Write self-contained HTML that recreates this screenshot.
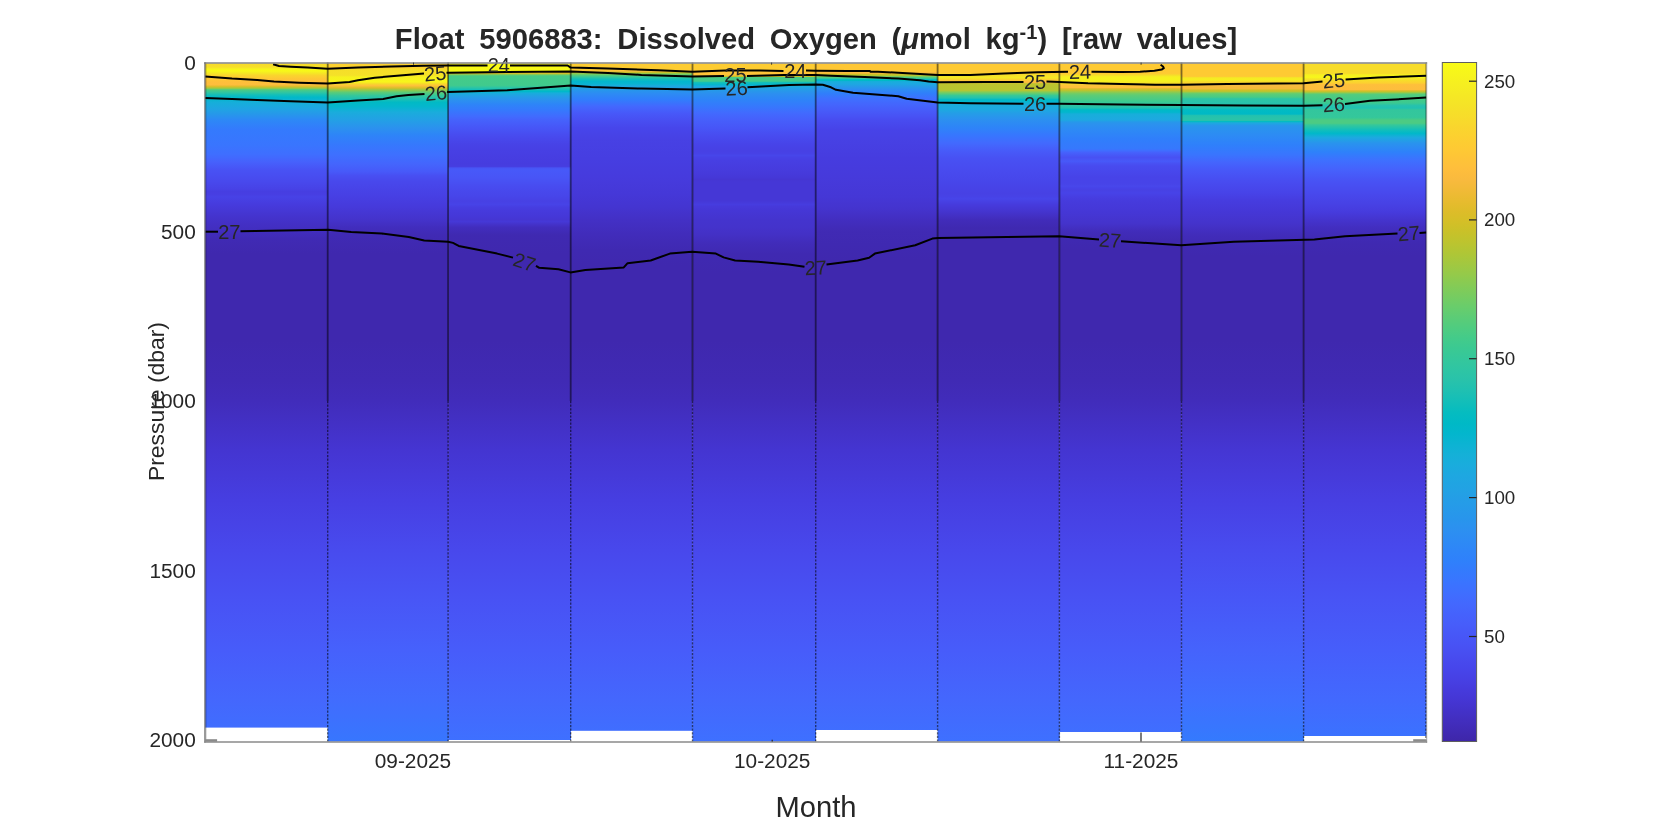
<!DOCTYPE html>
<html><head><meta charset="utf-8"><title>Float 5906883</title>
<style>html,body{margin:0;padding:0;background:#fff;width:1667px;height:834px;overflow:hidden;font-family:"Liberation Sans",sans-serif}</style></head>
<body>
<div style="position:absolute;left:0;top:0;width:1667px;height:834px;will-change:transform">
<svg width="1667" height="834" viewBox="0 0 1667 834" style="position:absolute;left:0;top:0;display:block" font-family="Liberation Sans, sans-serif">
<defs>
<linearGradient id="g0" gradientUnits="userSpaceOnUse" x1="0" y1="62.5" x2="0" y2="741.5">
<stop offset="0.00000" stop-color="#f7da2b"/>
<stop offset="0.00663" stop-color="#f6de29"/>
<stop offset="0.00884" stop-color="#f5ee21"/>
<stop offset="0.01105" stop-color="#f8f917"/>
<stop offset="0.01325" stop-color="#f7f41c"/>
<stop offset="0.01546" stop-color="#f5e924"/>
<stop offset="0.01885" stop-color="#fad52d"/>
<stop offset="0.02386" stop-color="#fec735"/>
<stop offset="0.02872" stop-color="#febf3b"/>
<stop offset="0.03284" stop-color="#fdbd3d"/>
<stop offset="0.03579" stop-color="#d6be27"/>
<stop offset="0.03829" stop-color="#93ca4b"/>
<stop offset="0.04021" stop-color="#4ccb83"/>
<stop offset="0.04389" stop-color="#32c69f"/>
<stop offset="0.04757" stop-color="#14bfb8"/>
<stop offset="0.05125" stop-color="#01b8c9"/>
<stop offset="0.05862" stop-color="#15afd9"/>
<stop offset="0.06863" stop-color="#20a4e3"/>
<stop offset="0.07599" stop-color="#2698ea"/>
<stop offset="0.08468" stop-color="#2d88f6"/>
<stop offset="0.09882" stop-color="#347afd"/>
<stop offset="0.12150" stop-color="#3975fe"/>
<stop offset="0.13549" stop-color="#3f6eff"/>
<stop offset="0.14654" stop-color="#4661fc"/>
<stop offset="0.15832" stop-color="#4852f4"/>
<stop offset="0.17511" stop-color="#4849ed"/>
<stop offset="0.18630" stop-color="#4742e6"/>
<stop offset="0.18999" stop-color="#463ee1"/>
<stop offset="0.19367" stop-color="#473ee2"/>
<stop offset="0.19779" stop-color="#4742e6"/>
<stop offset="0.20913" stop-color="#463bdd"/>
<stop offset="0.22607" stop-color="#4434ce"/>
<stop offset="0.23726" stop-color="#4330c5"/>
<stop offset="0.24963" stop-color="#412dbd"/>
<stop offset="0.25994" stop-color="#402ab4"/>
<stop offset="0.28203" stop-color="#3f28ae"/>
<stop offset="0.34978" stop-color="#3f28ae"/>
<stop offset="0.40869" stop-color="#3f28ae"/>
<stop offset="0.46760" stop-color="#402ab4"/>
<stop offset="0.49705" stop-color="#412cba"/>
<stop offset="0.57069" stop-color="#4435d1"/>
<stop offset="0.64433" stop-color="#463ee1"/>
<stop offset="0.71797" stop-color="#4848ec"/>
<stop offset="0.79161" stop-color="#4852f4"/>
<stop offset="0.86524" stop-color="#475cfa"/>
<stop offset="0.93888" stop-color="#4467fd"/>
<stop offset="1.00000" stop-color="#3e70ff"/>
</linearGradient>
<linearGradient id="g1" gradientUnits="userSpaceOnUse" x1="0" y1="62.5" x2="0" y2="741.5">
<stop offset="0.00000" stop-color="#fcd130"/>
<stop offset="0.00810" stop-color="#fcd130"/>
<stop offset="0.01031" stop-color="#f6de29"/>
<stop offset="0.01885" stop-color="#f5e128"/>
<stop offset="0.02135" stop-color="#f6f11f"/>
<stop offset="0.02872" stop-color="#f7f61b"/>
<stop offset="0.03122" stop-color="#f7da2b"/>
<stop offset="0.03402" stop-color="#fec13a"/>
<stop offset="0.03770" stop-color="#d6be27"/>
<stop offset="0.04021" stop-color="#9ac945"/>
<stop offset="0.04389" stop-color="#5ccc76"/>
<stop offset="0.04875" stop-color="#34c79b"/>
<stop offset="0.05376" stop-color="#1ec0b2"/>
<stop offset="0.05862" stop-color="#01bac4"/>
<stop offset="0.06495" stop-color="#05b6ce"/>
<stop offset="0.07349" stop-color="#1aacdc"/>
<stop offset="0.08468" stop-color="#23a0e5"/>
<stop offset="0.09602" stop-color="#2b92ee"/>
<stop offset="0.10736" stop-color="#2e84f8"/>
<stop offset="0.12150" stop-color="#3678fd"/>
<stop offset="0.13549" stop-color="#3e70ff"/>
<stop offset="0.14948" stop-color="#4465fd"/>
<stop offset="0.16097" stop-color="#4759f9"/>
<stop offset="0.16672" stop-color="#484ff2"/>
<stop offset="0.17511" stop-color="#4848ec"/>
<stop offset="0.19779" stop-color="#473fe3"/>
<stop offset="0.21193" stop-color="#463adb"/>
<stop offset="0.23166" stop-color="#4433cb"/>
<stop offset="0.24300" stop-color="#412dbd"/>
<stop offset="0.25405" stop-color="#402ab4"/>
<stop offset="0.28203" stop-color="#3f28ae"/>
<stop offset="0.34978" stop-color="#3f28ae"/>
<stop offset="0.40869" stop-color="#3f28ae"/>
<stop offset="0.46760" stop-color="#402ab4"/>
<stop offset="0.49705" stop-color="#412cba"/>
<stop offset="0.57069" stop-color="#4535d2"/>
<stop offset="0.64433" stop-color="#473fe3"/>
<stop offset="0.71797" stop-color="#484bee"/>
<stop offset="0.79161" stop-color="#4856f6"/>
<stop offset="0.86524" stop-color="#4661fc"/>
<stop offset="0.93888" stop-color="#416cfe"/>
<stop offset="1.00000" stop-color="#3776fe"/>
</linearGradient>
<linearGradient id="g2" gradientUnits="userSpaceOnUse" x1="0" y1="62.5" x2="0" y2="741.5">
<stop offset="0.00000" stop-color="#f8f917"/>
<stop offset="0.01325" stop-color="#f8f917"/>
<stop offset="0.01517" stop-color="#fcd130"/>
<stop offset="0.01635" stop-color="#c7c129"/>
<stop offset="0.01841" stop-color="#66cd6d"/>
<stop offset="0.02018" stop-color="#45cb88"/>
<stop offset="0.03373" stop-color="#40ca8d"/>
<stop offset="0.03623" stop-color="#32c69f"/>
<stop offset="0.03991" stop-color="#14bfb8"/>
<stop offset="0.04271" stop-color="#01b8c9"/>
<stop offset="0.04492" stop-color="#17aeda"/>
<stop offset="0.04978" stop-color="#249ee6"/>
<stop offset="0.05479" stop-color="#2b92ee"/>
<stop offset="0.06215" stop-color="#2e84f8"/>
<stop offset="0.07084" stop-color="#3678fd"/>
<stop offset="0.07953" stop-color="#416bfe"/>
<stop offset="0.08468" stop-color="#4562fc"/>
<stop offset="0.09602" stop-color="#4756f7"/>
<stop offset="0.11016" stop-color="#4849ed"/>
<stop offset="0.12150" stop-color="#4742e6"/>
<stop offset="0.13270" stop-color="#473fe3"/>
<stop offset="0.14948" stop-color="#463cdf"/>
<stop offset="0.15317" stop-color="#463ee1"/>
<stop offset="0.15538" stop-color="#4854f5"/>
<stop offset="0.15832" stop-color="#4759f9"/>
<stop offset="0.16951" stop-color="#4855f6"/>
<stop offset="0.18336" stop-color="#484bef"/>
<stop offset="0.19779" stop-color="#4745e9"/>
<stop offset="0.20398" stop-color="#4741e4"/>
<stop offset="0.20913" stop-color="#4743e7"/>
<stop offset="0.21281" stop-color="#463ee1"/>
<stop offset="0.21723" stop-color="#463bdd"/>
<stop offset="0.22607" stop-color="#4538d8"/>
<stop offset="0.23122" stop-color="#4536d3"/>
<stop offset="0.23446" stop-color="#4538d7"/>
<stop offset="0.23785" stop-color="#4433cb"/>
<stop offset="0.24300" stop-color="#412dbd"/>
<stop offset="0.25405" stop-color="#3f29b1"/>
<stop offset="0.28203" stop-color="#3f28ae"/>
<stop offset="0.34978" stop-color="#3f28ae"/>
<stop offset="0.40869" stop-color="#3f28ae"/>
<stop offset="0.46760" stop-color="#402ab4"/>
<stop offset="0.49705" stop-color="#412cba"/>
<stop offset="0.57069" stop-color="#4435d1"/>
<stop offset="0.64433" stop-color="#463ee1"/>
<stop offset="0.71797" stop-color="#4848ec"/>
<stop offset="0.79161" stop-color="#4852f4"/>
<stop offset="0.86524" stop-color="#475cfa"/>
<stop offset="0.93888" stop-color="#4467fd"/>
<stop offset="1.00000" stop-color="#3e70ff"/>
</linearGradient>
<linearGradient id="g3" gradientUnits="userSpaceOnUse" x1="0" y1="62.5" x2="0" y2="741.5">
<stop offset="0.00000" stop-color="#fdcc32"/>
<stop offset="0.01105" stop-color="#fdcc32"/>
<stop offset="0.01252" stop-color="#fabb3e"/>
<stop offset="0.01473" stop-color="#c7c129"/>
<stop offset="0.01620" stop-color="#93ca4b"/>
<stop offset="0.01841" stop-color="#5ccc76"/>
<stop offset="0.02135" stop-color="#34c79b"/>
<stop offset="0.02430" stop-color="#14bfb8"/>
<stop offset="0.02798" stop-color="#03b6cd"/>
<stop offset="0.03166" stop-color="#0ab4d1"/>
<stop offset="0.03461" stop-color="#1caadf"/>
<stop offset="0.03991" stop-color="#2698ea"/>
<stop offset="0.04610" stop-color="#2d8bf4"/>
<stop offset="0.05479" stop-color="#317dfc"/>
<stop offset="0.06465" stop-color="#4368fe"/>
<stop offset="0.07437" stop-color="#4759f9"/>
<stop offset="0.08468" stop-color="#484ff2"/>
<stop offset="0.09602" stop-color="#4746eb"/>
<stop offset="0.11267" stop-color="#4741e4"/>
<stop offset="0.14124" stop-color="#463ee1"/>
<stop offset="0.16951" stop-color="#463bdd"/>
<stop offset="0.19219" stop-color="#4538d8"/>
<stop offset="0.21193" stop-color="#4435d1"/>
<stop offset="0.23166" stop-color="#4330c5"/>
<stop offset="0.25405" stop-color="#412cba"/>
<stop offset="0.27688" stop-color="#3f29b1"/>
<stop offset="0.29971" stop-color="#3f28ae"/>
<stop offset="0.34978" stop-color="#3f28ae"/>
<stop offset="0.40869" stop-color="#3f28ae"/>
<stop offset="0.46760" stop-color="#402ab4"/>
<stop offset="0.49705" stop-color="#412cba"/>
<stop offset="0.57069" stop-color="#4435d1"/>
<stop offset="0.64433" stop-color="#463ee1"/>
<stop offset="0.71797" stop-color="#4848ec"/>
<stop offset="0.79161" stop-color="#4852f4"/>
<stop offset="0.86524" stop-color="#475cfa"/>
<stop offset="0.93888" stop-color="#4467fd"/>
<stop offset="1.00000" stop-color="#3e70ff"/>
</linearGradient>
<linearGradient id="g4" gradientUnits="userSpaceOnUse" x1="0" y1="62.5" x2="0" y2="741.5">
<stop offset="0.00000" stop-color="#fdcc32"/>
<stop offset="0.01178" stop-color="#fdcc32"/>
<stop offset="0.01399" stop-color="#fec438"/>
<stop offset="0.01841" stop-color="#fec239"/>
<stop offset="0.02062" stop-color="#c7c129"/>
<stop offset="0.02180" stop-color="#4ccb83"/>
<stop offset="0.02754" stop-color="#40ca8d"/>
<stop offset="0.02946" stop-color="#14bfb8"/>
<stop offset="0.03255" stop-color="#05b6ce"/>
<stop offset="0.03535" stop-color="#1caadf"/>
<stop offset="0.03756" stop-color="#20a4e3"/>
<stop offset="0.03991" stop-color="#259ce7"/>
<stop offset="0.04610" stop-color="#2c8ff0"/>
<stop offset="0.05479" stop-color="#2e84f8"/>
<stop offset="0.06465" stop-color="#3678fd"/>
<stop offset="0.07452" stop-color="#426afe"/>
<stop offset="0.08468" stop-color="#465ffb"/>
<stop offset="0.09602" stop-color="#4756f7"/>
<stop offset="0.10736" stop-color="#484cf0"/>
<stop offset="0.12150" stop-color="#4743e8"/>
<stop offset="0.12990" stop-color="#4741e4"/>
<stop offset="0.13402" stop-color="#4742e6"/>
<stop offset="0.13697" stop-color="#4746ea"/>
<stop offset="0.13991" stop-color="#4742e6"/>
<stop offset="0.14404" stop-color="#473fe3"/>
<stop offset="0.16377" stop-color="#463adb"/>
<stop offset="0.16937" stop-color="#4538d7"/>
<stop offset="0.17231" stop-color="#4536d3"/>
<stop offset="0.17599" stop-color="#4537d6"/>
<stop offset="0.18336" stop-color="#4537d6"/>
<stop offset="0.20339" stop-color="#4537d6"/>
<stop offset="0.20692" stop-color="#463adb"/>
<stop offset="0.20913" stop-color="#463cdf"/>
<stop offset="0.21208" stop-color="#4639da"/>
<stop offset="0.21723" stop-color="#4537d6"/>
<stop offset="0.23166" stop-color="#4434ce"/>
<stop offset="0.24300" stop-color="#4433cb"/>
<stop offset="0.25405" stop-color="#4330c5"/>
<stop offset="0.26554" stop-color="#412cba"/>
<stop offset="0.28262" stop-color="#3f29b1"/>
<stop offset="0.31090" stop-color="#3f28ae"/>
<stop offset="0.34978" stop-color="#3f28ae"/>
<stop offset="0.40869" stop-color="#3f28ae"/>
<stop offset="0.46760" stop-color="#402ab4"/>
<stop offset="0.49705" stop-color="#412cba"/>
<stop offset="0.57069" stop-color="#4435d1"/>
<stop offset="0.64433" stop-color="#463ee1"/>
<stop offset="0.71797" stop-color="#4848ec"/>
<stop offset="0.79161" stop-color="#4852f4"/>
<stop offset="0.86524" stop-color="#475cfa"/>
<stop offset="0.93888" stop-color="#4467fd"/>
<stop offset="1.00000" stop-color="#3e70ff"/>
</linearGradient>
<linearGradient id="g5" gradientUnits="userSpaceOnUse" x1="0" y1="62.5" x2="0" y2="741.5">
<stop offset="0.00000" stop-color="#fec735"/>
<stop offset="0.01325" stop-color="#fec735"/>
<stop offset="0.01473" stop-color="#fabb3e"/>
<stop offset="0.01679" stop-color="#e9bb2f"/>
<stop offset="0.01753" stop-color="#c7c129"/>
<stop offset="0.01959" stop-color="#b0c636"/>
<stop offset="0.02032" stop-color="#80cc59"/>
<stop offset="0.02180" stop-color="#5ccc76"/>
<stop offset="0.02253" stop-color="#39c994"/>
<stop offset="0.02386" stop-color="#30c5a1"/>
<stop offset="0.02459" stop-color="#0abdbd"/>
<stop offset="0.02666" stop-color="#00b9c8"/>
<stop offset="0.02813" stop-color="#18addb"/>
<stop offset="0.03166" stop-color="#1da8e1"/>
<stop offset="0.03520" stop-color="#259be8"/>
<stop offset="0.04021" stop-color="#2d8bf4"/>
<stop offset="0.04580" stop-color="#307efb"/>
<stop offset="0.05287" stop-color="#3e70ff"/>
<stop offset="0.06215" stop-color="#4465fd"/>
<stop offset="0.07084" stop-color="#475bf9"/>
<stop offset="0.07953" stop-color="#4852f4"/>
<stop offset="0.08468" stop-color="#484cf0"/>
<stop offset="0.09882" stop-color="#4743e8"/>
<stop offset="0.11267" stop-color="#4741e4"/>
<stop offset="0.14124" stop-color="#463cdf"/>
<stop offset="0.16951" stop-color="#463adb"/>
<stop offset="0.19779" stop-color="#4537d6"/>
<stop offset="0.21473" stop-color="#4434ce"/>
<stop offset="0.23166" stop-color="#422ec0"/>
<stop offset="0.24860" stop-color="#402ab4"/>
<stop offset="0.26848" stop-color="#3f29b1"/>
<stop offset="0.29087" stop-color="#3f28ae"/>
<stop offset="0.34978" stop-color="#3f28ae"/>
<stop offset="0.40869" stop-color="#3f28ae"/>
<stop offset="0.46760" stop-color="#402ab4"/>
<stop offset="0.49705" stop-color="#412cba"/>
<stop offset="0.57069" stop-color="#4435d1"/>
<stop offset="0.64433" stop-color="#463ee1"/>
<stop offset="0.71797" stop-color="#4848ec"/>
<stop offset="0.79161" stop-color="#4852f4"/>
<stop offset="0.86524" stop-color="#475cfa"/>
<stop offset="0.93888" stop-color="#4467fd"/>
<stop offset="1.00000" stop-color="#3e70ff"/>
</linearGradient>
<linearGradient id="g6" gradientUnits="userSpaceOnUse" x1="0" y1="62.5" x2="0" y2="741.5">
<stop offset="0.00000" stop-color="#feca33"/>
<stop offset="0.01517" stop-color="#feca33"/>
<stop offset="0.01841" stop-color="#f6de29"/>
<stop offset="0.02253" stop-color="#f5e924"/>
<stop offset="0.02430" stop-color="#f8d92c"/>
<stop offset="0.02695" stop-color="#fec438"/>
<stop offset="0.02946" stop-color="#fabb3e"/>
<stop offset="0.03122" stop-color="#bdc32e"/>
<stop offset="0.04109" stop-color="#b7c532"/>
<stop offset="0.04359" stop-color="#84cc56"/>
<stop offset="0.04610" stop-color="#5ccc76"/>
<stop offset="0.04860" stop-color="#37c897"/>
<stop offset="0.05228" stop-color="#23c1af"/>
<stop offset="0.05449" stop-color="#01bac4"/>
<stop offset="0.05670" stop-color="#02b7cb"/>
<stop offset="0.06215" stop-color="#1aacdc"/>
<stop offset="0.06966" stop-color="#1da8e1"/>
<stop offset="0.07452" stop-color="#249ee6"/>
<stop offset="0.08203" stop-color="#2a93ee"/>
<stop offset="0.08468" stop-color="#2c8ff0"/>
<stop offset="0.09602" stop-color="#2e84f8"/>
<stop offset="0.10736" stop-color="#3776fe"/>
<stop offset="0.11856" stop-color="#426afe"/>
<stop offset="0.12990" stop-color="#475bf9"/>
<stop offset="0.14124" stop-color="#4851f3"/>
<stop offset="0.15832" stop-color="#484bef"/>
<stop offset="0.17791" stop-color="#4745e9"/>
<stop offset="0.19219" stop-color="#4741e4"/>
<stop offset="0.19735" stop-color="#4742e6"/>
<stop offset="0.20059" stop-color="#4745e9"/>
<stop offset="0.20398" stop-color="#4741e4"/>
<stop offset="0.20913" stop-color="#463bdd"/>
<stop offset="0.22018" stop-color="#4434ce"/>
<stop offset="0.23166" stop-color="#412cba"/>
<stop offset="0.24300" stop-color="#3f29b1"/>
<stop offset="0.26141" stop-color="#3f28ae"/>
<stop offset="0.34978" stop-color="#3f28ae"/>
<stop offset="0.40869" stop-color="#3f28ae"/>
<stop offset="0.46760" stop-color="#402ab4"/>
<stop offset="0.49705" stop-color="#412cba"/>
<stop offset="0.57069" stop-color="#4435d1"/>
<stop offset="0.64433" stop-color="#463ee1"/>
<stop offset="0.71797" stop-color="#4848ec"/>
<stop offset="0.79161" stop-color="#4852f4"/>
<stop offset="0.86524" stop-color="#475cfa"/>
<stop offset="0.93888" stop-color="#4467fd"/>
<stop offset="1.00000" stop-color="#3e70ff"/>
</linearGradient>
<linearGradient id="g7" gradientUnits="userSpaceOnUse" x1="0" y1="62.5" x2="0" y2="741.5">
<stop offset="0.00000" stop-color="#feca33"/>
<stop offset="0.01605" stop-color="#feca33"/>
<stop offset="0.01841" stop-color="#f7da2b"/>
<stop offset="0.02032" stop-color="#f5eb23"/>
<stop offset="0.02283" stop-color="#f6f21d"/>
<stop offset="0.02754" stop-color="#f6f11f"/>
<stop offset="0.02946" stop-color="#f5e626"/>
<stop offset="0.03137" stop-color="#f9d72c"/>
<stop offset="0.03373" stop-color="#fec438"/>
<stop offset="0.03682" stop-color="#febf3b"/>
<stop offset="0.03873" stop-color="#dcbd29"/>
<stop offset="0.04109" stop-color="#bdc32e"/>
<stop offset="0.04345" stop-color="#93ca4b"/>
<stop offset="0.04610" stop-color="#6dcd67"/>
<stop offset="0.04860" stop-color="#5ccc76"/>
<stop offset="0.05729" stop-color="#3dca90"/>
<stop offset="0.06348" stop-color="#2dc4a5"/>
<stop offset="0.06701" stop-color="#1ec0b2"/>
<stop offset="0.06966" stop-color="#00b9c6"/>
<stop offset="0.07334" stop-color="#03b6cd"/>
<stop offset="0.07585" stop-color="#17aeda"/>
<stop offset="0.08203" stop-color="#1caadf"/>
<stop offset="0.08468" stop-color="#1da8e1"/>
<stop offset="0.08763" stop-color="#2698ea"/>
<stop offset="0.09057" stop-color="#2b92ee"/>
<stop offset="0.09882" stop-color="#2d8af5"/>
<stop offset="0.11296" stop-color="#307efb"/>
<stop offset="0.12710" stop-color="#3678fd"/>
<stop offset="0.12960" stop-color="#3f6eff"/>
<stop offset="0.13270" stop-color="#4661fc"/>
<stop offset="0.13976" stop-color="#4851f3"/>
<stop offset="0.14286" stop-color="#4855f6"/>
<stop offset="0.14551" stop-color="#4759f9"/>
<stop offset="0.14875" stop-color="#4851f3"/>
<stop offset="0.15243" stop-color="#484bef"/>
<stop offset="0.16951" stop-color="#4743e8"/>
<stop offset="0.17894" stop-color="#4744e8"/>
<stop offset="0.18218" stop-color="#4847eb"/>
<stop offset="0.18483" stop-color="#4743e8"/>
<stop offset="0.18778" stop-color="#4741e4"/>
<stop offset="0.19219" stop-color="#4743e8"/>
<stop offset="0.19661" stop-color="#473fe3"/>
<stop offset="0.20339" stop-color="#463bdd"/>
<stop offset="0.22018" stop-color="#4537d6"/>
<stop offset="0.23726" stop-color="#4433cb"/>
<stop offset="0.24860" stop-color="#412cba"/>
<stop offset="0.26141" stop-color="#3f29b1"/>
<stop offset="0.27614" stop-color="#3f28ae"/>
<stop offset="0.34978" stop-color="#3f28ae"/>
<stop offset="0.40869" stop-color="#3f28ae"/>
<stop offset="0.46760" stop-color="#402ab4"/>
<stop offset="0.49705" stop-color="#412cba"/>
<stop offset="0.57069" stop-color="#4435d1"/>
<stop offset="0.64433" stop-color="#463ee1"/>
<stop offset="0.71797" stop-color="#4848ec"/>
<stop offset="0.79161" stop-color="#4852f4"/>
<stop offset="0.86524" stop-color="#475cfa"/>
<stop offset="0.93888" stop-color="#4467fd"/>
<stop offset="1.00000" stop-color="#3e70ff"/>
</linearGradient>
<linearGradient id="g8" gradientUnits="userSpaceOnUse" x1="0" y1="62.5" x2="0" y2="741.5">
<stop offset="0.00000" stop-color="#feca33"/>
<stop offset="0.02047" stop-color="#feca33"/>
<stop offset="0.02224" stop-color="#f5e427"/>
<stop offset="0.02430" stop-color="#f6ef20"/>
<stop offset="0.02607" stop-color="#f5eb23"/>
<stop offset="0.02798" stop-color="#f6de29"/>
<stop offset="0.03004" stop-color="#fad42e"/>
<stop offset="0.03373" stop-color="#f8ba3d"/>
<stop offset="0.03873" stop-color="#f2ba38"/>
<stop offset="0.04050" stop-color="#d0bf27"/>
<stop offset="0.04242" stop-color="#c1c32c"/>
<stop offset="0.04418" stop-color="#8ccb50"/>
<stop offset="0.04610" stop-color="#5fcd73"/>
<stop offset="0.05110" stop-color="#45cb88"/>
<stop offset="0.05346" stop-color="#2dc4a5"/>
<stop offset="0.05965" stop-color="#28c2ab"/>
<stop offset="0.06554" stop-color="#1ec0b2"/>
<stop offset="0.06966" stop-color="#02bbc3"/>
<stop offset="0.07585" stop-color="#00b9c6"/>
<stop offset="0.07820" stop-color="#23c1af"/>
<stop offset="0.08321" stop-color="#2ac3a9"/>
<stop offset="0.08542" stop-color="#26c2ad"/>
<stop offset="0.08689" stop-color="#04bbc1"/>
<stop offset="0.08895" stop-color="#1caadf"/>
<stop offset="0.09323" stop-color="#2896ec"/>
<stop offset="0.10736" stop-color="#2d8bf4"/>
<stop offset="0.12150" stop-color="#2f80fb"/>
<stop offset="0.13549" stop-color="#3975fe"/>
<stop offset="0.14683" stop-color="#4465fd"/>
<stop offset="0.15832" stop-color="#4758f8"/>
<stop offset="0.17511" stop-color="#484cf0"/>
<stop offset="0.19219" stop-color="#4743e8"/>
<stop offset="0.20339" stop-color="#463cdf"/>
<stop offset="0.22018" stop-color="#4537d6"/>
<stop offset="0.23726" stop-color="#4433cb"/>
<stop offset="0.25405" stop-color="#412cba"/>
<stop offset="0.27025" stop-color="#3f29b1"/>
<stop offset="0.28498" stop-color="#3f28ae"/>
<stop offset="0.34978" stop-color="#3f28ae"/>
<stop offset="0.40869" stop-color="#3f28ae"/>
<stop offset="0.46760" stop-color="#402ab4"/>
<stop offset="0.49705" stop-color="#412cba"/>
<stop offset="0.57069" stop-color="#4536d3"/>
<stop offset="0.64433" stop-color="#4740e4"/>
<stop offset="0.71797" stop-color="#484cef"/>
<stop offset="0.79161" stop-color="#4757f7"/>
<stop offset="0.86524" stop-color="#4563fc"/>
<stop offset="0.93888" stop-color="#3f6fff"/>
<stop offset="1.00000" stop-color="#347afd"/>
</linearGradient>
<linearGradient id="g9" gradientUnits="userSpaceOnUse" x1="0" y1="62.5" x2="0" y2="741.5">
<stop offset="0.00000" stop-color="#f7dc2a"/>
<stop offset="0.01605" stop-color="#f7dc2a"/>
<stop offset="0.01826" stop-color="#f6f11f"/>
<stop offset="0.02180" stop-color="#f7f61b"/>
<stop offset="0.02430" stop-color="#f5e327"/>
<stop offset="0.03004" stop-color="#fcd130"/>
<stop offset="0.03255" stop-color="#febf3b"/>
<stop offset="0.03991" stop-color="#fdbd3d"/>
<stop offset="0.04183" stop-color="#d6be27"/>
<stop offset="0.04359" stop-color="#b7c532"/>
<stop offset="0.04492" stop-color="#80cc59"/>
<stop offset="0.04728" stop-color="#52cc7e"/>
<stop offset="0.05376" stop-color="#45cb88"/>
<stop offset="0.05965" stop-color="#3bc992"/>
<stop offset="0.06348" stop-color="#26c2ad"/>
<stop offset="0.06701" stop-color="#21c1b1"/>
<stop offset="0.06966" stop-color="#33c69d"/>
<stop offset="0.08071" stop-color="#34c79b"/>
<stop offset="0.08321" stop-color="#40ca8d"/>
<stop offset="0.08468" stop-color="#4ccb83"/>
<stop offset="0.08940" stop-color="#4ccb83"/>
<stop offset="0.09175" stop-color="#36c899"/>
<stop offset="0.09882" stop-color="#14bfb8"/>
<stop offset="0.10442" stop-color="#01b8c9"/>
<stop offset="0.11016" stop-color="#1caadf"/>
<stop offset="0.11856" stop-color="#2994ed"/>
<stop offset="0.13270" stop-color="#2f80fb"/>
<stop offset="0.14404" stop-color="#3e70ff"/>
<stop offset="0.15832" stop-color="#4661fc"/>
<stop offset="0.17511" stop-color="#4852f4"/>
<stop offset="0.19219" stop-color="#4849ed"/>
<stop offset="0.20913" stop-color="#4741e4"/>
<stop offset="0.22018" stop-color="#463bdd"/>
<stop offset="0.23166" stop-color="#4434ce"/>
<stop offset="0.24300" stop-color="#422ec0"/>
<stop offset="0.25405" stop-color="#402bb7"/>
<stop offset="0.26583" stop-color="#3f29b1"/>
<stop offset="0.28498" stop-color="#3f28ae"/>
<stop offset="0.34978" stop-color="#3f28ae"/>
<stop offset="0.40869" stop-color="#3f28ae"/>
<stop offset="0.46760" stop-color="#402ab4"/>
<stop offset="0.49705" stop-color="#412cba"/>
<stop offset="0.57069" stop-color="#4535d2"/>
<stop offset="0.64433" stop-color="#473fe2"/>
<stop offset="0.71797" stop-color="#4849ed"/>
<stop offset="0.79161" stop-color="#4854f5"/>
<stop offset="0.86524" stop-color="#465efb"/>
<stop offset="0.93888" stop-color="#4269fe"/>
<stop offset="1.00000" stop-color="#3a73ff"/>
</linearGradient>
<linearGradient id="cb" gradientUnits="userSpaceOnUse" x1="0" y1="741.5" x2="0" y2="62.5">
<stop offset="0.00000" stop-color="#3e26a8"/>
<stop offset="0.01562" stop-color="#402ab4"/>
<stop offset="0.03125" stop-color="#422ebf"/>
<stop offset="0.04688" stop-color="#4332ca"/>
<stop offset="0.06250" stop-color="#4536d5"/>
<stop offset="0.07812" stop-color="#463bdd"/>
<stop offset="0.09375" stop-color="#4741e5"/>
<stop offset="0.10938" stop-color="#4746eb"/>
<stop offset="0.12500" stop-color="#484cef"/>
<stop offset="0.14062" stop-color="#4852f4"/>
<stop offset="0.15625" stop-color="#4757f7"/>
<stop offset="0.17188" stop-color="#475dfa"/>
<stop offset="0.18750" stop-color="#4562fc"/>
<stop offset="0.20312" stop-color="#4368fe"/>
<stop offset="0.21875" stop-color="#3f6eff"/>
<stop offset="0.23438" stop-color="#3a74ff"/>
<stop offset="0.25000" stop-color="#347afd"/>
<stop offset="0.26562" stop-color="#2f80fb"/>
<stop offset="0.28125" stop-color="#2e85f8"/>
<stop offset="0.29688" stop-color="#2d8bf4"/>
<stop offset="0.31250" stop-color="#2c90f0"/>
<stop offset="0.32812" stop-color="#2895ec"/>
<stop offset="0.34375" stop-color="#269ae9"/>
<stop offset="0.35938" stop-color="#249ee6"/>
<stop offset="0.37500" stop-color="#21a3e3"/>
<stop offset="0.39062" stop-color="#1ea7e1"/>
<stop offset="0.40625" stop-color="#1aacdd"/>
<stop offset="0.42188" stop-color="#15b0d8"/>
<stop offset="0.43750" stop-color="#0cb3d3"/>
<stop offset="0.45312" stop-color="#03b6cd"/>
<stop offset="0.46875" stop-color="#00b9c6"/>
<stop offset="0.48438" stop-color="#05bcc0"/>
<stop offset="0.50000" stop-color="#12beb9"/>
<stop offset="0.51562" stop-color="#1ec0b2"/>
<stop offset="0.53125" stop-color="#28c2ab"/>
<stop offset="0.54688" stop-color="#2ec5a4"/>
<stop offset="0.56250" stop-color="#34c79c"/>
<stop offset="0.57812" stop-color="#3ac993"/>
<stop offset="0.59375" stop-color="#43cb8a"/>
<stop offset="0.60938" stop-color="#4fcc80"/>
<stop offset="0.62500" stop-color="#5ccc76"/>
<stop offset="0.64062" stop-color="#69cd6b"/>
<stop offset="0.65625" stop-color="#77cc60"/>
<stop offset="0.67188" stop-color="#85cb55"/>
<stop offset="0.68750" stop-color="#94ca4a"/>
<stop offset="0.70312" stop-color="#a2c840"/>
<stop offset="0.71875" stop-color="#afc636"/>
<stop offset="0.73438" stop-color="#bcc42f"/>
<stop offset="0.75000" stop-color="#c8c129"/>
<stop offset="0.76562" stop-color="#d4bf27"/>
<stop offset="0.78125" stop-color="#debc29"/>
<stop offset="0.79688" stop-color="#e8bb2f"/>
<stop offset="0.81250" stop-color="#f1ba37"/>
<stop offset="0.82812" stop-color="#f9ba3e"/>
<stop offset="0.84375" stop-color="#febe3c"/>
<stop offset="0.85938" stop-color="#fec437"/>
<stop offset="0.87500" stop-color="#feca33"/>
<stop offset="0.89062" stop-color="#fcd030"/>
<stop offset="0.90625" stop-color="#f9d62d"/>
<stop offset="0.92188" stop-color="#f7dd2a"/>
<stop offset="0.93750" stop-color="#f5e327"/>
<stop offset="0.95312" stop-color="#f5e924"/>
<stop offset="0.96875" stop-color="#f6ef20"/>
<stop offset="0.98438" stop-color="#f7f51b"/>
<stop offset="1.00000" stop-color="#f9fb15"/>
</linearGradient>
</defs>
<rect x="205.1" y="63.4" width="122.90" height="664.20" fill="url(#g0)"/>
<rect x="327.7" y="63.4" width="120.70" height="678.10" fill="url(#g1)"/>
<rect x="448.1" y="63.4" width="122.90" height="676.60" fill="url(#g2)"/>
<rect x="570.7" y="63.4" width="122.10" height="667.40" fill="url(#g3)"/>
<rect x="692.5" y="63.4" width="123.50" height="678.10" fill="url(#g4)"/>
<rect x="815.7" y="63.4" width="122.20" height="666.60" fill="url(#g5)"/>
<rect x="937.6" y="63.4" width="122.10" height="678.10" fill="url(#g6)"/>
<rect x="1059.4" y="63.4" width="122.40" height="668.60" fill="url(#g7)"/>
<rect x="1181.5" y="63.4" width="122.40" height="678.10" fill="url(#g8)"/>
<rect x="1303.6" y="63.4" width="122.90" height="672.60" fill="url(#g9)"/>
<line x1="205.79999999999998" y1="62.5" x2="205.79999999999998" y2="741.5" stroke="#000" stroke-opacity="0.3" stroke-width="1.2"/>
<line x1="327.7" y1="62.5" x2="327.7" y2="401" stroke="#000" stroke-opacity="0.5" stroke-width="1.8"/>
<line x1="327.7" y1="401" x2="327.7" y2="741.5" stroke="#000" stroke-opacity="0.55" stroke-width="1.4" stroke-dasharray="2.2 1.4"/>
<line x1="448.1" y1="62.5" x2="448.1" y2="401" stroke="#000" stroke-opacity="0.5" stroke-width="1.8"/>
<line x1="448.1" y1="401" x2="448.1" y2="741.5" stroke="#000" stroke-opacity="0.55" stroke-width="1.4" stroke-dasharray="2.2 1.4"/>
<line x1="570.7" y1="62.5" x2="570.7" y2="401" stroke="#000" stroke-opacity="0.5" stroke-width="1.8"/>
<line x1="570.7" y1="401" x2="570.7" y2="741.5" stroke="#000" stroke-opacity="0.55" stroke-width="1.4" stroke-dasharray="2.2 1.4"/>
<line x1="692.5" y1="62.5" x2="692.5" y2="401" stroke="#000" stroke-opacity="0.5" stroke-width="1.8"/>
<line x1="692.5" y1="401" x2="692.5" y2="741.5" stroke="#000" stroke-opacity="0.55" stroke-width="1.4" stroke-dasharray="2.2 1.4"/>
<line x1="815.7" y1="62.5" x2="815.7" y2="401" stroke="#000" stroke-opacity="0.5" stroke-width="1.8"/>
<line x1="815.7" y1="401" x2="815.7" y2="741.5" stroke="#000" stroke-opacity="0.55" stroke-width="1.4" stroke-dasharray="2.2 1.4"/>
<line x1="937.6" y1="62.5" x2="937.6" y2="401" stroke="#000" stroke-opacity="0.5" stroke-width="1.8"/>
<line x1="937.6" y1="401" x2="937.6" y2="741.5" stroke="#000" stroke-opacity="0.55" stroke-width="1.4" stroke-dasharray="2.2 1.4"/>
<line x1="1059.4" y1="62.5" x2="1059.4" y2="401" stroke="#000" stroke-opacity="0.5" stroke-width="1.8"/>
<line x1="1059.4" y1="401" x2="1059.4" y2="741.5" stroke="#000" stroke-opacity="0.55" stroke-width="1.4" stroke-dasharray="2.2 1.4"/>
<line x1="1181.5" y1="62.5" x2="1181.5" y2="401" stroke="#000" stroke-opacity="0.5" stroke-width="1.8"/>
<line x1="1181.5" y1="401" x2="1181.5" y2="741.5" stroke="#000" stroke-opacity="0.55" stroke-width="1.4" stroke-dasharray="2.2 1.4"/>
<line x1="1303.6" y1="62.5" x2="1303.6" y2="401" stroke="#000" stroke-opacity="0.5" stroke-width="1.8"/>
<line x1="1303.6" y1="401" x2="1303.6" y2="741.5" stroke="#000" stroke-opacity="0.55" stroke-width="1.4" stroke-dasharray="2.2 1.4"/>
<line x1="1425.8" y1="62.5" x2="1425.8" y2="401" stroke="#000" stroke-opacity="0.3" stroke-width="1.2"/>
<line x1="1425.9" y1="401" x2="1425.9" y2="741.5" stroke="#000" stroke-opacity="0.55" stroke-width="1.4" stroke-dasharray="2.2 1.4"/>
<path d="M273.1,64.3 L279.0,66.0 L290.8,66.8 L307.6,67.6 L327.7,68.8 L358.0,67.6 L391.5,66.5 L423.4,65.8 L448.0,65.5 L487.5,65.5" fill="none" stroke="#000" stroke-width="2.0" stroke-linejoin="round" stroke-linecap="butt"/>
<path d="M510.0,65.5 L567.6,65.5 L570.7,67.6 L608.0,68.5 L658.3,70.2 L692.4,71.8 L725.3,70.6 L760.0,70.5 L783.5,71.0" fill="none" stroke="#000" stroke-width="2.0" stroke-linejoin="round" stroke-linecap="butt"/>
<path d="M806.0,70.6 L815.7,70.7 L848.0,71.0 L869.8,71.0 L870.6,71.8 L878.0,71.8 L898.3,72.7 L937.6,74.9 L970.4,74.9 L1004.0,73.5 L1037.6,72.2 L1068.0,71.8" fill="none" stroke="#000" stroke-width="2.0" stroke-linejoin="round" stroke-linecap="butt"/>
<path d="M1091.5,71.8 L1121.5,71.9 L1140.0,71.7 L1154.4,70.8 L1161.6,69.6 L1163.8,68.2 L1163.0,66.5 L1160.6,64.8" fill="none" stroke="#000" stroke-width="2.0" stroke-linejoin="round" stroke-linecap="butt"/>
<path d="M205.1,76.5 L232.0,78.6 L257.2,79.9 L274.0,81.6 L299.2,82.8 L327.7,83.6 L349.5,81.9 L358.0,80.2 L374.7,77.7 L400.0,75.5 L424.0,73.6" fill="none" stroke="#000" stroke-width="2.0" stroke-linejoin="round" stroke-linecap="butt"/>
<path d="M446.5,72.8 L448.1,72.7 L507.2,71.9 L570.7,71.4 L608.0,73.0 L641.5,74.9 L692.4,76.5 L724.0,76.0" fill="none" stroke="#000" stroke-width="2.0" stroke-linejoin="round" stroke-linecap="butt"/>
<path d="M747.0,76.0 L784.0,74.9 L815.7,74.9 L831.0,75.7 L864.7,76.9 L898.3,78.6 L920.0,80.2 L928.6,81.6 L937.6,82.2 L987.2,81.9 L1023.5,81.9" fill="none" stroke="#000" stroke-width="2.0" stroke-linejoin="round" stroke-linecap="butt"/>
<path d="M1046.5,81.6 L1059.4,81.9 L1088.0,83.3 L1121.5,84.1 L1155.1,84.8 L1181.5,84.8 L1227.2,84.1 L1277.6,83.6 L1303.6,83.3 L1314.5,82.2 L1322.5,81.4" fill="none" stroke="#000" stroke-width="2.0" stroke-linejoin="round" stroke-linecap="butt"/>
<path d="M1345.6,79.4 L1378.3,77.4 L1426.2,75.7" fill="none" stroke="#000" stroke-width="2.0" stroke-linejoin="round" stroke-linecap="butt"/>
<path d="M205.1,97.9 L232.0,99.0 L257.2,100.0 L290.8,101.2 L327.7,102.4 L358.0,100.4 L383.2,99.0 L396.6,96.2 L408.3,95.0 L424.5,94.0" fill="none" stroke="#000" stroke-width="2.0" stroke-linejoin="round" stroke-linecap="butt"/>
<path d="M447.0,91.8 L448.1,92.0 L507.2,90.3 L540.8,87.8 L570.7,85.6 L591.2,87.0 L641.5,88.6 L692.4,89.6 L725.5,88.6" fill="none" stroke="#000" stroke-width="2.0" stroke-linejoin="round" stroke-linecap="butt"/>
<path d="M747.5,87.3 L789.0,85.0 L815.7,84.4 L822.8,84.8 L831.0,87.3 L836.0,89.8 L853.0,92.8 L898.3,96.2 L906.7,98.7 L937.6,102.4 L970.4,103.2 L1023.5,103.7" fill="none" stroke="#000" stroke-width="2.0" stroke-linejoin="round" stroke-linecap="butt"/>
<path d="M1046.5,103.7 L1059.4,103.7 L1121.5,104.6 L1181.5,104.9 L1244.0,105.4 L1303.6,105.8 L1322.5,105.2" fill="none" stroke="#000" stroke-width="2.0" stroke-linejoin="round" stroke-linecap="butt"/>
<path d="M1345.0,104.0 L1370.0,100.7 L1395.1,99.5 L1426.2,97.4" fill="none" stroke="#000" stroke-width="2.0" stroke-linejoin="round" stroke-linecap="butt"/>
<path d="M205.4,231.7 L218.0,231.7" fill="none" stroke="#000" stroke-width="2.0" stroke-linejoin="round" stroke-linecap="butt"/>
<path d="M240.5,231.3 L328.2,229.8 L351.2,232.1 L381.9,233.6 L408.8,237.1 L424.2,240.6 L448.0,241.7 L453.0,242.9 L458.7,245.9 L497.1,253.6 L513.0,257.6" fill="none" stroke="#000" stroke-width="2.0" stroke-linejoin="round" stroke-linecap="butt"/>
<path d="M536.0,265.8 L539.3,267.8 L558.5,269.3 L570.4,272.4 L585.4,270.1 L623.8,267.4 L627.6,263.2 L650.7,260.5 L669.9,253.6 L692.1,251.7 L715.9,253.6 L723.6,257.4 L735.1,260.5 L758.1,261.7 L788.8,264.4 L804.5,266.8" fill="none" stroke="#000" stroke-width="2.0" stroke-linejoin="round" stroke-linecap="butt"/>
<path d="M826.5,264.4 L857.6,260.5 L869.1,257.8 L874.9,253.6 L915.2,245.2 L932.4,238.6 L938.2,237.9 L1059.1,236.3 L1099.0,239.4" fill="none" stroke="#000" stroke-width="2.0" stroke-linejoin="round" stroke-linecap="butt"/>
<path d="M1121.0,241.3 L1181.2,245.2 L1233.8,241.7 L1314.4,239.4 L1345.1,236.3 L1397.5,233.6" fill="none" stroke="#000" stroke-width="2.0" stroke-linejoin="round" stroke-linecap="butt"/>
<path d="M1419.5,232.9 L1426.2,232.5" fill="none" stroke="#000" stroke-width="2.0" stroke-linejoin="round" stroke-linecap="butt"/>
<text x="498.8" y="64.6" font-size="20" fill="#262626" text-anchor="middle" dominant-baseline="central" transform="rotate(0 498.8 64.6)">24</text>
<text x="435.2" y="73.5" font-size="20" fill="#262626" text-anchor="middle" dominant-baseline="central" transform="rotate(-5 435.2 73.5)">25</text>
<text x="436" y="93" font-size="20" fill="#262626" text-anchor="middle" dominant-baseline="central" transform="rotate(-5 436 93)">26</text>
<text x="735.4" y="75.4" font-size="20" fill="#262626" text-anchor="middle" dominant-baseline="central" transform="rotate(0 735.4 75.4)">25</text>
<text x="736.6" y="88.3" font-size="20" fill="#262626" text-anchor="middle" dominant-baseline="central" transform="rotate(-3 736.6 88.3)">26</text>
<text x="795.3" y="70.8" font-size="20" fill="#262626" text-anchor="middle" dominant-baseline="central" transform="rotate(0 795.3 70.8)">24</text>
<text x="1035" y="81.9" font-size="20" fill="#262626" text-anchor="middle" dominant-baseline="central" transform="rotate(0 1035 81.9)">25</text>
<text x="1079.9" y="71.7" font-size="20" fill="#262626" text-anchor="middle" dominant-baseline="central" transform="rotate(-1 1079.9 71.7)">24</text>
<text x="1035" y="103.7" font-size="20" fill="#262626" text-anchor="middle" dominant-baseline="central" transform="rotate(0 1035 103.7)">26</text>
<text x="1333.8" y="80.6" font-size="20" fill="#262626" text-anchor="middle" dominant-baseline="central" transform="rotate(-5 1333.8 80.6)">25</text>
<text x="1333.8" y="104.6" font-size="20" fill="#262626" text-anchor="middle" dominant-baseline="central" transform="rotate(-4 1333.8 104.6)">26</text>
<text x="229.3" y="231.7" font-size="20" fill="#262626" text-anchor="middle" dominant-baseline="central" transform="rotate(0 229.3 231.7)">27</text>
<text x="524.5" y="262" font-size="20" fill="#262626" text-anchor="middle" dominant-baseline="central" transform="rotate(18 524.5 262)">27</text>
<text x="815.7" y="267.7" font-size="20" fill="#262626" text-anchor="middle" dominant-baseline="central" transform="rotate(-3 815.7 267.7)">27</text>
<text x="1110" y="240.2" font-size="20" fill="#262626" text-anchor="middle" dominant-baseline="central" transform="rotate(4 1110 240.2)">27</text>
<text x="1408.8" y="233.4" font-size="20" fill="#262626" text-anchor="middle" dominant-baseline="central" transform="rotate(-4 1408.8 233.4)">27</text>
<line x1="204.29999999999998" y1="63" x2="1427.1000000000001" y2="63" stroke="#838487" stroke-width="1.7"/>
<line x1="204.9" y1="62.2" x2="204.9" y2="742.8" stroke="#707070" stroke-width="1.2"/>
<line x1="204.29999999999998" y1="742" x2="1427.1000000000001" y2="742" stroke="#8a8a8a" stroke-width="1.7"/>
<line x1="1426.7" y1="62.2" x2="1426.7" y2="742.8" stroke="#8a8a8a" stroke-width="1" stroke-opacity="0.75"/>
<line x1="1141" y1="741.5" x2="1141" y2="732.5" stroke="#262626" stroke-width="1.2"/>
<line x1="772.2" y1="741.5" x2="772.2" y2="739.8" stroke="#262626" stroke-width="1.2"/>
<line x1="413.5" y1="62.5" x2="413.5" y2="64.8" stroke="#262626" stroke-width="1" stroke-opacity="0.8"/>
<line x1="771.6" y1="62.5" x2="771.6" y2="64.8" stroke="#262626" stroke-width="1" stroke-opacity="0.8"/>
<line x1="1141.1" y1="62.5" x2="1141.1" y2="64.8" stroke="#262626" stroke-width="1" stroke-opacity="0.8"/>
<rect x="205.1" y="739.2" width="12" height="2.5" fill="#8a8a8a"/>
<rect x="1413.2" y="739.2" width="12.5" height="2.5" fill="#8a8a8a"/>
<text x="195.8" y="62" font-size="20.83" fill="#262626" text-anchor="end" dominant-baseline="central">0</text>
<text x="195.8" y="231" font-size="20.83" fill="#262626" text-anchor="end" dominant-baseline="central">500</text>
<text x="195.8" y="400" font-size="20.83" fill="#262626" text-anchor="end" dominant-baseline="central">1000</text>
<text x="195.8" y="570" font-size="20.83" fill="#262626" text-anchor="end" dominant-baseline="central">1500</text>
<text x="195.8" y="739" font-size="20.83" fill="#262626" text-anchor="end" dominant-baseline="central">2000</text>
<text x="413" y="768" font-size="20.83" fill="#262626" text-anchor="middle">09-2025</text>
<text x="772.2" y="768" font-size="20.83" fill="#262626" text-anchor="middle">10-2025</text>
<text x="1141" y="768" font-size="20.83" fill="#262626" text-anchor="middle">11-2025</text>
<text x="816" y="816.7" font-size="29.17" fill="#262626" text-anchor="middle">Month</text>
<text x="164.3" y="401.5" font-size="22.9" fill="#262626" text-anchor="middle" transform="rotate(-90 164.3 401.5)">Pressure (dbar)</text>
<text x="816" y="49.1" font-size="29.17" font-weight="bold" fill="#262626" text-anchor="middle" word-spacing="6.7">Float 5906883: Dissolved Oxygen (<tspan font-style="italic">μ</tspan>mol kg<tspan font-size="20" dy="-10">-1</tspan><tspan dy="10">) [raw values]</tspan></text>
<rect x="1442.3" y="62.5" width="34.3" height="679.0" fill="url(#cb)" stroke="#5e5e5e" stroke-width="1"/>
<line x1="1469" y1="81.2" x2="1476.6" y2="81.2" stroke="#262626" stroke-width="1.2"/>
<text x="1484" y="81.2" font-size="18.75" fill="#262626" dominant-baseline="central">250</text>
<line x1="1469" y1="219.9" x2="1476.6" y2="219.9" stroke="#262626" stroke-width="1.2"/>
<text x="1484" y="219.9" font-size="18.75" fill="#262626" dominant-baseline="central">200</text>
<line x1="1469" y1="358.7" x2="1476.6" y2="358.7" stroke="#262626" stroke-width="1.2"/>
<text x="1484" y="358.7" font-size="18.75" fill="#262626" dominant-baseline="central">150</text>
<line x1="1469" y1="497.6" x2="1476.6" y2="497.6" stroke="#262626" stroke-width="1.2"/>
<text x="1484" y="497.6" font-size="18.75" fill="#262626" dominant-baseline="central">100</text>
<line x1="1469" y1="636.5" x2="1476.6" y2="636.5" stroke="#262626" stroke-width="1.2"/>
<text x="1484" y="636.5" font-size="18.75" fill="#262626" dominant-baseline="central">50</text>
</svg>
</div>
</body></html>
